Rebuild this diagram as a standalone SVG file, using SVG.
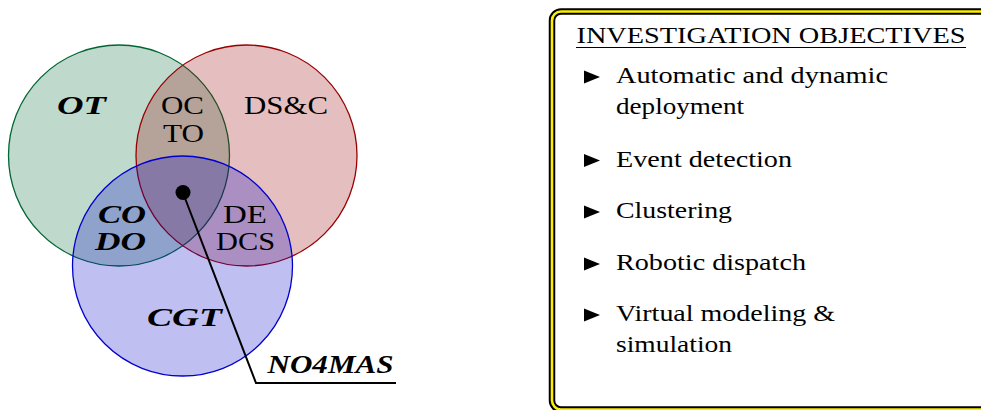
<svg xmlns="http://www.w3.org/2000/svg" width="981" height="410" viewBox="0 0 981 410">
<style>
.c{stroke-width:1.3;fill-opacity:0.25}
.lbl{font-size:26px;fill:#000;text-anchor:middle}
.bi{font-weight:bold;font-style:italic}
.t{font-size:23px;fill:#000}
.bul{fill:#000}
</style>
<rect width="981" height="410" fill="#fff"/>
<g id="venn">
<g id="ot-circle"><circle class="c" cx="119" cy="155.5" r="110.5" fill="#006633" stroke="#006633"/></g>
<g id="dsc-circle"><circle class="c" cx="246.5" cy="155.5" r="110.5" fill="#990000" stroke="#990000"/></g>
<g id="cgt-circle"><circle class="c" cx="182.5" cy="266" r="110" fill="#0000cc" stroke="#0000cc"/></g>
</g>
<g id="labels" font-family="Liberation Serif, Times New Roman, DejaVu Serif, serif">
<text class="lbl bi" x="81.5" y="114" textLength="49" lengthAdjust="spacingAndGlyphs">OT</text>
<text class="lbl" x="182.5" y="114" textLength="43" lengthAdjust="spacingAndGlyphs">OC</text>
<text class="lbl" x="183.5" y="142" textLength="41" lengthAdjust="spacingAndGlyphs">TO</text>
<text class="lbl" x="286" y="114" textLength="84" lengthAdjust="spacingAndGlyphs">DS&amp;C</text>
<text class="lbl bi" x="122" y="223" textLength="48" lengthAdjust="spacingAndGlyphs">CO</text>
<text class="lbl bi" x="120.5" y="250" textLength="51" lengthAdjust="spacingAndGlyphs">DO</text>
<text class="lbl" x="245" y="223" textLength="44" lengthAdjust="spacingAndGlyphs">DE</text>
<text class="lbl" x="245.5" y="250" textLength="59" lengthAdjust="spacingAndGlyphs">DCS</text>
<text class="lbl bi" x="184.5" y="326" textLength="75" lengthAdjust="spacingAndGlyphs">CGT</text>
</g>
<g id="connectors">
<polyline points="183,193 256,383 396,383" fill="none" stroke="#000" stroke-width="2"/>
</g>
<g id="no4mas" font-family="Liberation Serif, Times New Roman, DejaVu Serif, serif">
<circle cx="183" cy="192.5" r="7.5" fill="#000"/>
<text class="lbl bi" x="330.5" y="373" textLength="126" lengthAdjust="spacingAndGlyphs">NO4MAS</text>
</g>
<g id="objectives" font-family="Liberation Serif, Times New Roman, DejaVu Serif, serif">
<rect x="552" y="11.5" width="460" height="398" rx="9" fill="#fff" stroke="#000" stroke-width="6.5"/>
<rect x="552" y="11.5" width="460" height="398" rx="9" fill="none" stroke="#ffee00" stroke-width="2.6"/>
<text class="t" x="576.5" y="43" textLength="389" lengthAdjust="spacingAndGlyphs">INVESTIGATION OBJECTIVES</text>
<line x1="576" y1="47.5" x2="966" y2="47.5" stroke="#000" stroke-width="1"/>
<path class="bul" d="M584,70.5 L600,77 L584,83.5 Z"/>
<text class="t" x="616" y="83" textLength="272" lengthAdjust="spacingAndGlyphs">Automatic and dynamic</text>
<text class="t" x="616" y="113.5" textLength="128" lengthAdjust="spacingAndGlyphs">deployment</text>
<path class="bul" d="M584,154 L600,160.5 L584,167 Z"/>
<text class="t" x="616" y="166.5" textLength="176" lengthAdjust="spacingAndGlyphs">Event detection</text>
<path class="bul" d="M584,205.5 L600,212 L584,218.5 Z"/>
<text class="t" x="616" y="218" textLength="116" lengthAdjust="spacingAndGlyphs">Clustering</text>
<path class="bul" d="M584,257.5 L600,264 L584,270.5 Z"/>
<text class="t" x="616" y="270" textLength="190" lengthAdjust="spacingAndGlyphs">Robotic dispatch</text>
<path class="bul" d="M584,308.5 L600,315 L584,321.5 Z"/>
<text class="t" x="616" y="321" textLength="219" lengthAdjust="spacingAndGlyphs">Virtual modeling &amp;</text>
<text class="t" x="616" y="351.5" textLength="116" lengthAdjust="spacingAndGlyphs">simulation</text>
</g>
</svg>
